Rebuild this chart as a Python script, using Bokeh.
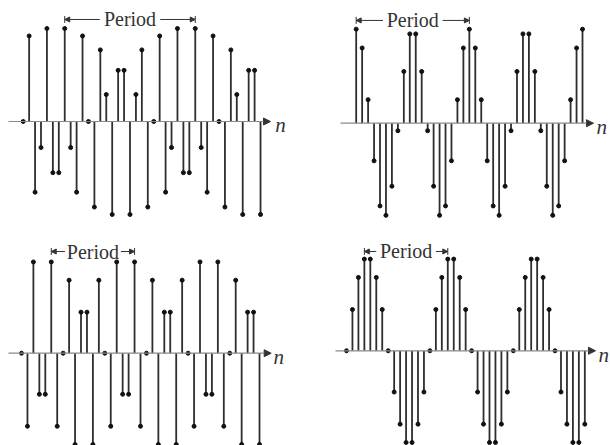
from bokeh.plotting import figure
from bokeh.layouts import gridplot
from bokeh.models import Arrow, NormalHead, Label
from bokeh.embed import file_html
from bokeh.resources import INLINE

# ---- data (sample values) ----
n_a = list(range(41))
x_a = [0, 0.92, -0.76, -0.28, 1.0, -0.55, -0.55, 1.0, -0.28, -0.76, 0.92,
       0, -0.92, 0.77, 0.29, -1.0, 0.55, 0.55, -1.0, 0.29, 0.77, -0.92,
       0, 0.92, -0.76, -0.28, 1.0, -0.55, -0.55, 1.0, -0.28, -0.76, 0.92,
       0, -0.92, 0.77, 0.29, -1.0, 0.55, 0.55, -1.0]

n_b = list(range(39))
x_b = [1.0, 0.80, 0.25, -0.40, -0.88, -0.98, -0.67, -0.08, 0.55, 0.95,
       0.95, 0.55, -0.08, -0.67, -0.98, -0.88, -0.40, 0.25, 0.80,
       1.0, 0.80, 0.25, -0.40, -0.88, -0.98, -0.67, -0.08, 0.55, 0.95,
       0.95, 0.55, -0.08, -0.67, -0.98, -0.88, -0.40, 0.25, 0.80, 1.0]

n_c = list(range(41))
x_c = [0, -0.80, 1.0, -0.45, -0.45, 1.0, -0.80,
       0, 0.80, -1.0, 0.45, 0.45, -1.0, 0.80,
       0, -0.80, 1.0, -0.45, -0.45, 1.0, -0.80,
       0, 0.80, -1.0, 0.45, 0.45, -1.0, 0.80,
       0, -0.80, 1.0, -0.45, -0.45, 1.0, -0.80,
       0, 0.80, -1.0, 0.45, 0.45, -1.0]

n_d = list(range(41))
x_d = [0, 0.45, 0.80, 1.0, 1.0, 0.80, 0.45,
       0, -0.45, -0.80, -1.0, -1.0, -0.80, -0.45,
       0, 0.45, 0.80, 1.0, 1.0, 0.80, 0.45,
       0, -0.45, -0.80, -1.0, -1.0, -0.80, -0.45,
       0, 0.45, 0.80, 1.0, 1.0, 0.80, 0.45,
       0, -0.45, -0.80, -1.0, -1.0, -0.80]

period_a = (7, 29)
period_b = (0, 19)
period_c = (5, 19)
period_d = (3, 17)

period_text = "Period"
axis_text = "n"

STEM = "#2e2e2e"
AXIS = "#8a8a8a"
SERIF = "Liberation Serif"


def panel(n, x, period, w, h, xr, yr, ax_start, ax_end, per_y, half_gap, n_x, amp_px):
    p = figure(width=w, height=h, x_range=xr, y_range=yr,
               output_backend="svg", toolbar_location=None, min_border=0)
    p.axis.visible = False
    p.grid.visible = False
    p.outline_line_color = None
    p.background_fill_color = "white"
    p.border_fill_color = "white"

    # horizontal axis with arrow
    p.add_layout(Arrow(x_start=ax_start, y_start=0, x_end=ax_end, y_end=0,
                       line_color=AXIS, line_width=1.2,
                       end=NormalHead(size=7, fill_color="#333333", line_color="#333333")))
    # stems and dots
    p.segment(x0=n, y0=[0] * len(n), x1=n, y1=x, line_color=STEM, line_width=1.8)
    p.scatter(n, x, size=4, color="#111111")

    # axis label
    p.add_layout(Label(x=n_x, y=-4.0 / amp_px, text=axis_text, text_font=SERIF,
                       text_font_style="italic", text_font_size="21px",
                       text_color="#333333", text_baseline="alphabetic", text_align="left"))

    # period annotation
    a, b = period
    c = (a + b) / 2.0
    p.add_layout(Label(x=c, y=per_y, text=period_text, text_font=SERIF,
                       text_font_size="20px", text_color="#333333",
                       text_align="center", text_baseline="middle"))
    head = dict(size=5, fill_color="#333333", line_color="#333333")
    p.add_layout(Arrow(x_start=c - half_gap, y_start=per_y, x_end=a, y_end=per_y,
                       line_color="#333333", line_width=1, end=NormalHead(**head)))
    p.add_layout(Arrow(x_start=c + half_gap, y_start=per_y, x_end=b, y_end=per_y,
                       line_color="#333333", line_width=1, end=NormalHead(**head)))
    bar = 3.5 / amp_px
    p.segment(x0=[a, b], y0=[per_y - bar] * 2, x1=[a, b], y1=[per_y + bar] * 2,
              line_color="#333333", line_width=1)
    return p


p1 = panel(n_a, x_a, period_a, 305, 222, (-3.826, 47.58), (-1.086, 1.301),
           -2.48, 41.68, 1.097, 5.1, 42.5, 93)
p2 = panel(n_b, x_b, period_b, 305, 222, (-8.51, 42.70), (-1.056, 1.305),
           -2.63, 39.84, 1.093, 5.0, 40.35, 94)
p3 = panel(n_c, x_c, period_c, 305, 223, (-3.53, 47.73), (-1.011, 1.432),
           -2.18, 41.96, 1.114, 4.7, 42.35, 91.3)
p4 = panel(n_d, x_d, period_d, 305, 223, (-6.88, 44.31), (-1.033, 1.399),
           -1.85, 41.79, 1.083, 5.0, 42.3, 91.7)

grid = gridplot([[p1, p2], [p3, p4]], toolbar_location=None)

open("out.html", "w").write(file_html(grid, INLINE))
